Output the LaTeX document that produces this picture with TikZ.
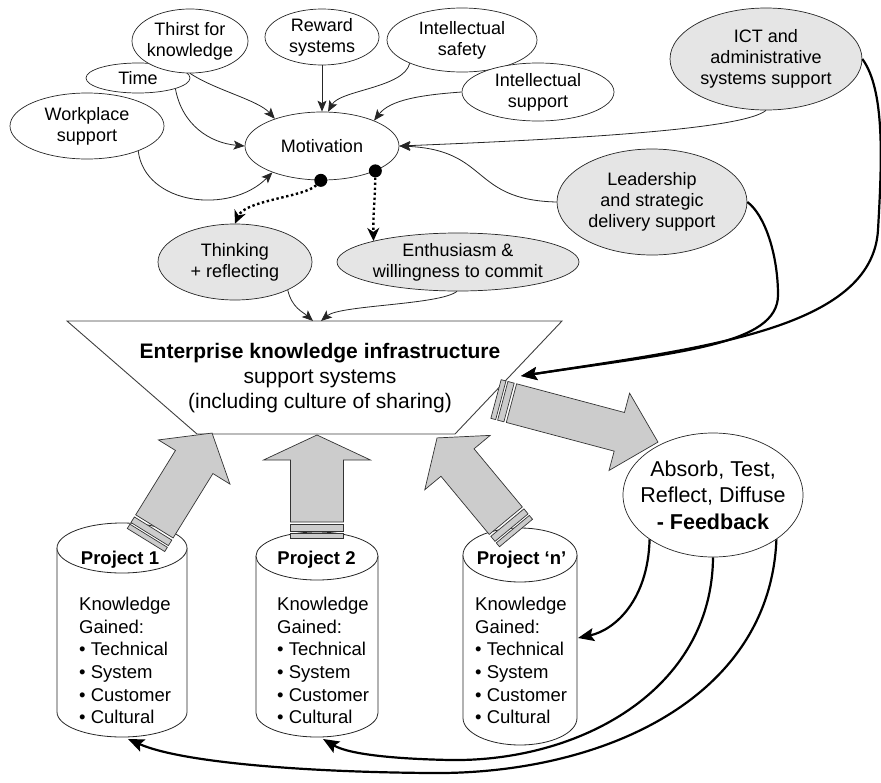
\documentclass[tikz,border=0pt]{standalone}
\usepackage{fontspec}
\setmainfont{Liberation Sans}
\usetikzlibrary{shapes.geometric,arrows.meta}

\tikzset{
  ell/.style={ellipse, draw=black!85, line width=0.7pt, fill=white, inner sep=-12pt,
    align=center, font=\fontsize{18}{21}\selectfont},
  gell/.style={ell, fill=gray!20},
  thin link/.style={draw=black!85, line width=0.8pt, -{Stealth[length=11pt,width=9pt,inset=2.5pt]}},
  thick link/.style={draw=black, line width=2.2pt, -{Stealth[length=16pt,width=13pt,inset=3pt]}},
  dot link/.style={draw=black, line width=2.4pt, dash pattern=on 2.4pt off 2.6pt,
    -{Stealth[length=13pt,width=12pt,inset=4pt]}},
  blk/.style={fill=gray!40, draw=black!80, line width=0.7pt, line join=miter},
  drumline/.style={draw=black!85, line width=0.8pt, fill=white},
  drumtext/.style={align=left, inner sep=0pt, font=\fontsize{18.5}{22.6}\selectfont},
  drumhead/.style={inner sep=0pt, font=\bfseries\fontsize{18.5}{22}\selectfont},
  bigdot/.style={circle, fill=black, inner sep=0pt, minimum size=13pt},
}

% project store: centre x, x radius, top y, bottom y, y radius
\newcommand\drum[5]{%
  \filldraw[drumline] ({#1-#2},#3) -- ({#1-#2},#4)
    .. controls ({#1-#2},{#4+0.5523*#5}) and ({#1-0.5523*#2},{#4+#5}) .. (#1,{#4+#5})
    .. controls ({#1+0.5523*#2},{#4+#5}) and ({#1+#2},{#4+0.5523*#5}) .. ({#1+#2},#4)
    -- ({#1+#2},#3);
  \draw[drumline] (#1,#3) ellipse [x radius=#2, y radius=#5];}

% grey block arrow with two bands at its tail:
% tail point, angle, length, shaft half width, head half width, head length
\newcommand\blockarrow[6]{%
  \begin{scope}[shift={#1}, rotate=#2]
    \filldraw[blk] (16,-#4) -- ({#3-#6},-#4) -- ({#3-#6},-#5) -- (#3,0)
      -- ({#3-#6},#5) -- ({#3-#6},#4) -- (16,#4) -- cycle;
    \filldraw[blk] (0,-#4) rectangle (5,#4);
    \filldraw[blk] (7,-#4) rectangle (13.5,#4);
  \end{scope}}

\begin{document}
\begin{tikzpicture}[x=1pt,y=-1pt]
\useasboundingbox (0,0) rectangle (881,782);

% funnel of the knowledge infrastructure
\filldraw[fill=white, draw=black!75, line width=0.9pt]
  (67,321) -- (562,321) -- (455,434) -- (197,434) -- cycle;
\coordinate (fin1) at (313,321);
\coordinate (fin2) at (321,321);
\coordinate (hit) at (521,376);
\node[font=\fontsize{21}{25}\selectfont, align=center] (fun) at (320,378)
  {\textbf{Enterprise knowledge infrastructure}\\support systems\\(including culture of sharing)};

% project stores
\drum{122}{65}{548}{712}{25}
\drum{317}{61}{556}{713}{24}
\drum{520}{57}{555}{718}{27}
\node[drumhead] (p1) at (120,560) {Project 1};
\node[drumhead] (p2) at (316.5,560) {Project 2};
\node[drumhead] (pn) at (521.5,560) {Project ‘n’};
\node[drumtext, anchor=north west] (k1) at (79,597)
  {Knowledge\\Gained:\\• Technical\\• System\\• Customer\\• Cultural};
\node[drumtext, anchor=north west] (k2) at (277,597)
  {Knowledge\\Gained:\\• Technical\\• System\\• Customer\\• Cultural};
\node[drumtext, anchor=north west] (kn) at (475,597)
  {Knowledge\\Gained:\\• Technical\\• System\\• Customer\\• Cultural};
\coordinate (c1b) at (128,739);
\coordinate (c2b) at (323,739);
\coordinate (cnr) at (578,638);

% block arrows
\blockarrow{(146,540)}{58.3}{125.7}{22}{42}{34}
\blockarrow{(317,538)}{90}{103}{26.5}{53.5}{25}
\blockarrow{(516,533)}{129.7}{123.6}{21.5}{42.5}{32}
\blockarrow{(496,399)}{-14.9}{167.6}{20}{40}{40}

% influences
\node[ell, minimum width=104, minimum height=30] (time) at (138,78) {Time};
\node[ell, minimum width=116, minimum height=64] (thirst) at (190,41) {Thirst for\\knowledge};
\node[ell, minimum width=114, minimum height=56] (reward) at (322,37) {Reward\\systems};
\node[ell, minimum width=150, minimum height=64] (isafety) at (462,40) {Intellectual\\safety};
\node[ell, minimum width=152, minimum height=58] (isupport) at (538,92) {Intellectual\\support};
\node[gell, minimum width=192, minimum height=102] (ict) at (766,59) {ICT and\\administrative\\systems support};
\node[ell, minimum width=154, minimum height=66] (work) at (87,126) {Workplace\\support};
\node[ell, minimum width=154, minimum height=68] (mot) at (322,146) {Motivation};
\node[gell, minimum width=190, minimum height=106] (lead) at (652,202) {Leadership\\and strategic\\delivery support};
\node[gell, minimum width=154, minimum height=76] (think) at (235,262) {Thinking\\+ reflecting};
\node[gell, minimum width=242, minimum height=58] (enth) at (458,262) {Enthusiasm \&\\willingness to commit};
\node[ell, minimum width=180, minimum height=124, font=\fontsize{21.5}{26.5}\selectfont] (feed) at (713,495)
  {Absorb, Test,\\Reflect, Diffuse\\\textbf{- Feedback}};

\node[bigdot] (d1) at (mot.-92) {};
\node[bigdot] (d2) at (mot.-25) {};

% thin links into motivation and the funnel
\draw[thin link] (thirst.south) .. controls (215,90) and (258,100) .. (mot.150);
\draw[thin link] (time.-16) .. controls (182,125) and (210,143) .. (mot.west);
\draw[thin link] (work.-26) .. controls (145,205) and (230,215) .. (mot.-152);
\draw[thin link] (reward.south) -- (mot.north);
\draw[thin link] (isafety.204) .. controls (404,88) and (340,90) .. (mot.80);
\draw[thin link] (isupport.west) .. controls (420,95) and (390,100) .. (mot.26);
\draw[thin link] (ict.south) .. controls (745,128) and (600,138) .. (mot.east);
\draw[thin link] (lead.west) .. controls (470,200) and (490,150) .. (mot.east);
\draw[thin link] (think.-28) .. controls (292,308) and (303,312) .. (fin1);
\draw[thin link] (enth.-92) .. controls (440,305) and (340,305) .. (fin2);

% dotted outcomes of motivation
\draw[dot link] (d1) .. controls (305,197) and (245,200) .. (think.north);
\draw[dot link] (d2) .. controls (375,200) and (373,215) .. (enth.166);

% support systems feeding the infrastructure
\draw[thick link] (ict.east) .. controls (885,90) and (882,160) .. (878,230)
  .. controls (872,330) and (700,348) .. (hit);
\draw[thick link] (lead.east) .. controls (765,215) and (778,255) .. (778,295)
  .. controls (778,345) and (680,352) .. (hit);

% feedback to the projects
\draw[thick link] (feed.215) .. controls (648,600) and (615,630) .. (cnr);
\draw[thick link] (feed.south) .. controls (712,690) and (580,762) .. (450,760)
  .. controls (400,759) and (350,755) .. (c2b);
\draw[thick link] (feed.-35) .. controls (770,700) and (600,775) .. (430,773)
  .. controls (300,772) and (180,762) .. (c1b);
\end{tikzpicture}
\end{document}
